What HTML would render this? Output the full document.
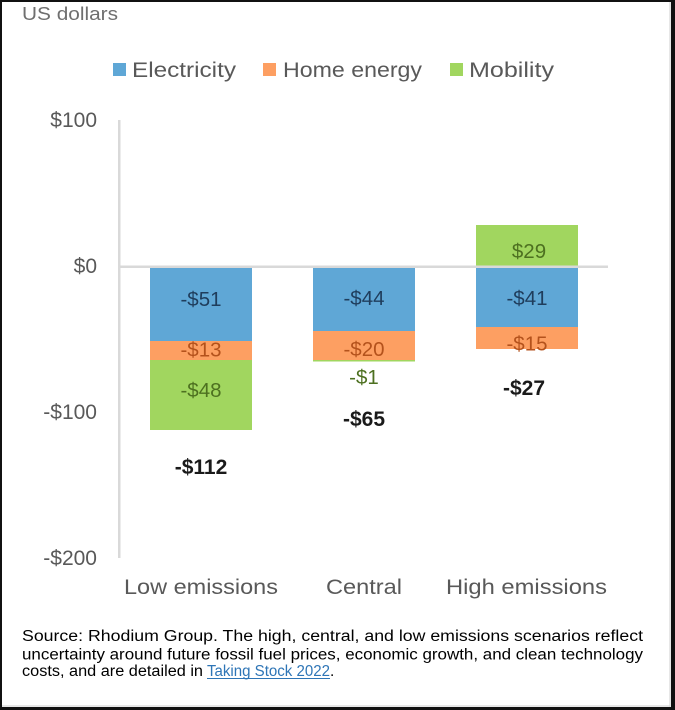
<!DOCTYPE html>
<html><head><meta charset="utf-8"><style>
html,body{margin:0;padding:0;background:#fff;}
svg{display:block;}
text{font-family:"Liberation Sans",sans-serif;}
</style></head><body>
<svg width="675" height="710" viewBox="0 0 675 710" xmlns="http://www.w3.org/2000/svg">
<rect x="0" y="0" width="675" height="710" fill="#fff"/>
<!-- frame -->
<rect x="0" y="0" width="675" height="2" fill="#111"/>
<rect x="0" y="0" width="2" height="710" fill="#111"/>
<rect x="671" y="0" width="4" height="710" fill="#111"/>
<rect x="0" y="707" width="675" height="3" fill="#111"/>
<rect x="669.5" y="2" width="1" height="705" fill="#cfcfcf"/>
<rect x="2" y="705.5" width="668" height="1" fill="#cfcfcf"/>

<!-- title -->
<text x="22" y="20" font-size="18" fill="#6f6f6f" textLength="96" lengthAdjust="spacingAndGlyphs">US dollars</text>

<!-- legend -->
<rect x="113" y="63" width="13" height="13" fill="#5fa7d6"/>
<text x="132" y="77" font-size="21" fill="#595959" textLength="104" lengthAdjust="spacingAndGlyphs">Electricity</text>
<rect x="263" y="63" width="13" height="13" fill="#fd9f62"/>
<text x="283" y="77" font-size="21" fill="#595959" textLength="139" lengthAdjust="spacingAndGlyphs">Home energy</text>
<rect x="450" y="63" width="13" height="13" fill="#a1d65f"/>
<text x="469" y="77" font-size="21" fill="#595959" textLength="85" lengthAdjust="spacingAndGlyphs">Mobility</text>

<!-- axis labels -->
<g font-size="21" fill="#595959" text-anchor="end">
<text x="97" y="127">$100</text>
<text x="97" y="273">$0</text>
<text x="97" y="419">-$100</text>
<text x="97" y="565">-$200</text>
</g>

<!-- axis -->
<rect x="118" y="120" width="2.5" height="438" fill="#d9d9d9"/>

<!-- bars: Low -->
<rect x="150" y="267" width="102" height="74" fill="#5fa7d6"/>
<rect x="150" y="341" width="102" height="19" fill="#fd9f62"/>
<rect x="150" y="360" width="102" height="70" fill="#a1d65f"/>
<!-- Central -->
<rect x="313" y="267" width="102" height="64" fill="#5fa7d6"/>
<rect x="313" y="331" width="102" height="29" fill="#fd9f62"/>
<rect x="313" y="360" width="102" height="1.5" fill="#a1d65f"/>
<!-- High -->
<rect x="476" y="225" width="102" height="42" fill="#a1d65f"/>
<rect x="476" y="267" width="102" height="60" fill="#5fa7d6"/>
<rect x="476" y="327" width="102" height="22" fill="#fd9f62"/>

<!-- zero line -->
<rect x="118" y="265.5" width="490" height="2.5" fill="#d9d9d9"/>

<!-- segment labels -->
<g font-size="20.5" text-anchor="middle">
<text x="201" y="306" fill="#1f3d5c">-$51</text>
<text x="201" y="356.5" fill="#b4521c">-$13</text>
<text x="201" y="397" fill="#4d7020">-$48</text>
<text x="364" y="305" fill="#1f3d5c">-$44</text>
<text x="364" y="356" fill="#b4521c">-$20</text>
<text x="364" y="384" fill="#4d7020">-$1</text>
<text x="529" y="258" fill="#4d7020">$29</text>
<text x="527" y="305" fill="#1f3d5c">-$41</text>
<text x="527" y="350.5" fill="#b4521c">-$15</text>
</g>
<g font-size="21" font-weight="bold" text-anchor="middle" fill="#1a1a1a">
<text x="201" y="474">-$112</text>
<text x="364" y="426">-$65</text>
<text x="524" y="395">-$27</text>
</g>

<!-- category labels -->
<g font-size="21" fill="#595959">
<text x="124" y="594" textLength="154" lengthAdjust="spacingAndGlyphs">Low emissions</text>
<text x="326" y="594" textLength="76" lengthAdjust="spacingAndGlyphs">Central</text>
<text x="446" y="594" textLength="161" lengthAdjust="spacingAndGlyphs">High emissions</text>
</g>

<!-- footnote -->
<g font-size="15.5" fill="#000">
<text x="22" y="641" textLength="621" lengthAdjust="spacingAndGlyphs">Source: Rhodium Group. The high, central, and low emissions scenarios reflect</text>
<text x="22" y="659.5" textLength="621" lengthAdjust="spacingAndGlyphs">uncertainty around future fossil fuel prices, economic growth, and clean technology</text>
<text x="22" y="676" textLength="181" lengthAdjust="spacingAndGlyphs">costs, and are detailed in</text>
<text x="207" y="676" fill="#2e75b6" textLength="123" lengthAdjust="spacingAndGlyphs">Taking Stock 2022</text>
<text x="330" y="676">.</text>
</g>
<rect x="207" y="678" width="123" height="1" fill="#2e75b6"/>
</svg>
</body></html>
